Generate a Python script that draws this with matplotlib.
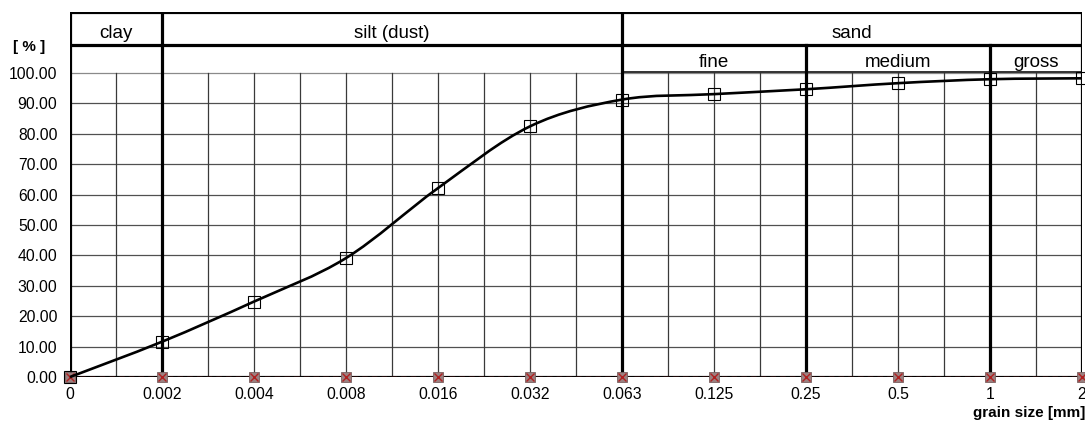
import matplotlib
matplotlib.use("Agg")
import matplotlib.pyplot as plt
from matplotlib.path import Path
from matplotlib.patches import PathPatch

plt.rcParams['font.family'] = ['Liberation Sans', 'DejaVu Sans']

# ---- data ----
grain_labels = ["0", "0.002", "0.004", "0.008", "0.016", "0.032", "0.063",
                "0.125", "0.25", "0.5", "1", "2"]
passing = [0.0, 11.6, 24.8, 39.1, 62.1, 82.4, 91.2, 93.0, 94.6, 96.6, 97.9, 98.2]
zero_series = [0.0] * len(grain_labels)
y_ticks = [0, 10, 20, 30, 40, 50, 60, 70, 80, 90, 100]

main_groups = [("clay", 0, 1), ("silt (dust)", 1, 6), ("sand", 6, 11)]
sand_groups = [("fine", 6, 8), ("medium", 8, 10), ("gross", 10, 11)]

W, H = 1085, 424
fig = plt.figure(figsize=(W / 100, H / 100), dpi=100)
ax = fig.add_axes([70 / W, (H - 377) / H, 1012 / W, 365 / H])

x = list(range(len(grain_labels)))
n = len(x)
ax.set_xlim(0, n - 1)
ax.set_ylim(0, 120)

THICK = 2.3
THIN = 0.9

# grid
for yv in y_ticks[1:]:
    ax.plot([0, n - 1], [yv, yv], color="#505050" if yv < 100 else "#8a8a8a",
            lw=THIN, zorder=1)
for i in range(2 * (n - 1) + 1):
    xv = i / 2
    ax.plot([xv, xv], [0, 100], color="#3a3a3a", lw=THIN, zorder=1)

# header frame
ax.plot([0, n - 1], [120, 120], color="black", lw=THICK, zorder=3, solid_capstyle="projecting")
ax.plot([0, n - 1], [109, 109], color="black", lw=THICK, zorder=3)
ax.plot([6, n - 1], [100.4, 100.4], color="#222222", lw=1.3, zorder=3)
for xv in [0, 1, 6, n - 1]:
    ax.plot([xv, xv], [0, 120], color="black", lw=THICK, zorder=3)
for xv in [8, 10]:
    ax.plot([xv, xv], [0, 109], color="black", lw=THICK, zorder=3)
ax.plot([0, n - 1], [0, 0], color="black", lw=THICK, zorder=3)

for name, a, b in main_groups:
    ax.text((a + b) / 2, 113.0, name, ha="center", va="center", fontsize=13.5, zorder=4)
for name, a, b in sand_groups:
    ax.text((a + b) / 2, 103.3, name, ha="center", va="center", fontsize=13.5, zorder=4)

# zero series along the axis
ax.plot(x, zero_series, color="#8b1a1a", lw=1.0, ls=(0, (4, 3)), zorder=4)
ax.plot(x, zero_series, ls="none", marker="s", ms=7, mfc="#9a8080", mec="#7a6060",
        mew=0.6, zorder=5, clip_on=False)
ax.plot(x, zero_series, ls="none", marker="x", ms=6, mec="#b02020", mew=1.0,
        zorder=6, clip_on=False)

# smoothed curve (Catmull-Rom -> Bezier) through the data points
verts = [(x[0], passing[0])]
codes = [Path.MOVETO]
t = 1 / 6
for i in range(n - 1):
    p0 = (x[i - 1], passing[i - 1]) if i > 0 else (x[i], passing[i])
    p1 = (x[i], passing[i])
    p2 = (x[i + 1], passing[i + 1])
    p3 = (x[i + 2], passing[i + 2]) if i + 2 < n else p2
    c1 = (p1[0] + (p2[0] - p0[0]) * t, p1[1] + (p2[1] - p0[1]) * t)
    c2 = (p2[0] - (p3[0] - p1[0]) * t, p2[1] - (p3[1] - p1[1]) * t)
    verts += [c1, c2, p2]
    codes += [Path.CURVE4] * 3
ax.add_patch(PathPatch(Path(verts, codes), fill=False, edgecolor="black", lw=1.9,
                       zorder=7, clip_on=False))
ax.plot(x, passing, ls="none", marker="s", ms=8.5, mfc="none", mec="black",
        mew=0.8, zorder=8, clip_on=False)

# axes styling
for s in ax.spines.values():
    s.set_visible(False)
ax.set_xticks(x)
ax.set_xticklabels(grain_labels, fontsize=11.3)
ax.set_yticks(y_ticks)
ax.set_yticklabels([f"{v:.2f}" for v in y_ticks], fontsize=11.3)
ax.tick_params(axis="both", length=0, pad=7)
ax.tick_params(axis="y", pad=9)

fig.text(45 / W, 1 - 47 / H, "[ % ]", ha="right", va="center", fontsize=11,
         fontweight="bold")
fig.text(1085 / W, 1 - 413 / H, "grain size [mm]", ha="right", va="center",
         fontsize=11, fontweight="bold")

fig.savefig("out.png", dpi=100)
